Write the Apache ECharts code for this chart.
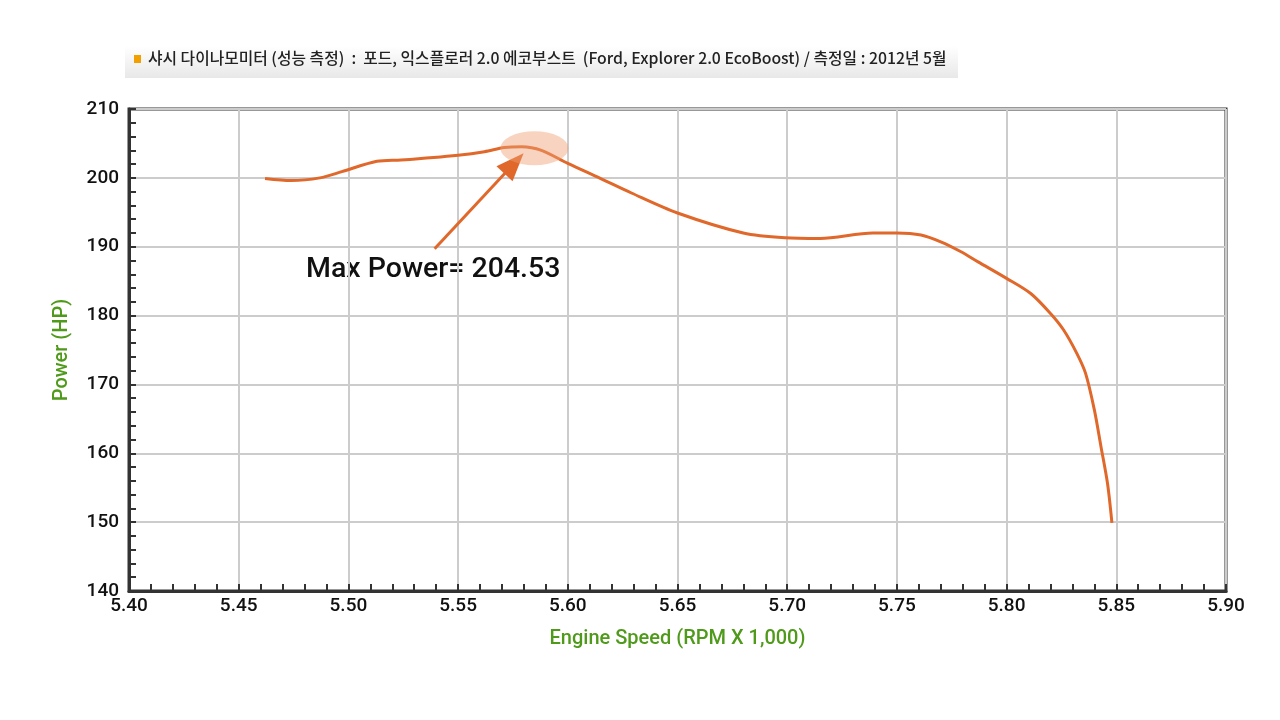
<!DOCTYPE html>
<html>
<head>
<meta charset="utf-8">
<script src="https://cdn.jsdelivr.net/npm/echarts@6/dist/echarts.min.js"></script>
<style>
  html, body { margin: 0; padding: 0; background: #fff; }
  #main { width: 1280px; height: 720px; }
</style>
</head>
<body>
<div id="main"></div>
<script>
// 엔진 회전수 (x1000 RPM) / 출력 (HP)
var rpm = [5.462, 5.474, 5.487, 5.497, 5.513, 5.524, 5.550, 5.562, 5.571, 5.579, 5.588, 5.600,
  5.615, 5.629, 5.650, 5.680, 5.699, 5.715, 5.739, 5.750, 5.761, 5.770, 5.779, 5.787,
  5.800, 5.811, 5.820, 5.826, 5.832, 5.836, 5.840, 5.843, 5.846, 5.848];
var hp = [199.9, 199.6, 200.0, 200.9, 202.4, 202.6, 203.3, 203.8, 204.4, 204.53, 204.0, 202.1,
  199.9, 197.8, 194.9, 192.0, 191.3, 191.2, 192.0, 192.0, 191.7, 190.7, 189.3, 187.8,
  185.4, 183.2, 180.3, 177.9, 174.5, 171.6, 166.3, 161.0, 155.6, 149.9];

var titleText = '샤시 다이나모미터 (성능 측정)  :  포드, 익스플로러 2.0 에코부스트  (Ford, Explorer 2.0 EcoBoost) / 측정일 : 2012년 5월';
var maxLabel = 'Max Power= 204.53';
var peak = [5.5848, 204.3];
var arrowFrom = [5.5393, 189.7];
var arrowTo = [5.5755, 202.1];

var points = rpm.map(function (r, i) { return [r, hp[i]]; });

var myChart = echarts.init(document.getElementById('main'));
var green = '#4f9a1a';
var orange = '#e0682a';

var option = {
  animation: false,
  grid: {
    left: 129, right: 54, top: 109, bottom: 129,
    show: true, borderColor: '#333', borderWidth: 3
  },
  xAxis: {
    type: 'value', min: 5.4, max: 5.9, interval: 0.05,
    name: 'Engine Speed (RPM X 1,000)', nameLocation: 'middle', nameGap: 38,
    nameTextStyle: { color: green, fontSize: 20, fontFamily: 'Roboto', fontWeight: 500 },
    axisLine: { lineStyle: { color: '#333', width: 3 } },
    axisTick: { show: true, inside: true, length: 7, lineStyle: { color: '#333', width: 2 } },
    minorTick: { show: true, splitNumber: 5, length: 7, lineStyle: { color: '#333', width: 2 } },
    axisLabel: {
      color: '#111', fontSize: 19, fontFamily: 'Roboto', fontWeight: 500, margin: 6,
      formatter: function (v) { return v.toFixed(2); }
    },
    splitLine: { lineStyle: { color: '#ccc', width: 2 } }
  },
  yAxis: {
    type: 'value', min: 140, max: 210, interval: 10,
    name: 'Power (HP)', nameLocation: 'middle', nameGap: 57,
    nameTextStyle: { color: green, fontSize: 20, fontFamily: 'Roboto', fontWeight: 500 },
    axisLine: { show: true, lineStyle: { color: '#333', width: 3 } },
    axisTick: { show: true, inside: true, length: 7, lineStyle: { color: '#333', width: 2 } },
    minorTick: { show: true, splitNumber: 5, length: 7, lineStyle: { color: '#333', width: 2 } },
    axisLabel: { color: '#111', fontSize: 19, fontFamily: 'Roboto', fontWeight: 500, margin: 10 },
    splitLine: { lineStyle: { color: '#ccc', width: 2 } }
  },
  series: [{
    type: 'line',
    data: points,
    smooth: 0.3,
    showSymbol: false,
    lineStyle: { color: orange, width: 3 },
    markPoint: {
      silent: true,
      symbol: 'circle',
      symbolSize: [68, 34],
      itemStyle: { color: 'rgba(240,160,115,0.45)' },
      label: { show: false },
      data: [{ coord: peak }]
    },
    markLine: {
      silent: true,
      symbol: ['none', 'triangle'],
      symbolSize: [22, 28],
      lineStyle: { color: orange, width: 3, type: 'solid' },
      label: { show: false },
      data: [[{ coord: arrowFrom }, { coord: arrowTo }]]
    }
  }],
  graphic: [
    {
      type: 'rect',
      shape: { x: 125, y: 46, width: 833, height: 32 },
      style: {
        fill: new echarts.graphic.LinearGradient(0, 0, 0, 1, [
          { offset: 0, color: '#ffffff' },
          { offset: 1, color: '#e8e8e8' }
        ])
      }
    },
    {
      type: 'rect',
      shape: { x: 134, y: 55, width: 7, height: 8 },
      style: { fill: '#f2a000' }
    },
    {
      type: 'text',
      left: 148, top: 50,
      style: { text: titleText, fontSize: 15.8, fontWeight: 500, fill: '#222', fontFamily: 'Noto Sans CJK KR' }
    },
    {
      type: 'text',
      left: 306, top: 255,
      style: { text: maxLabel, fontSize: 28.5, fontWeight: 500, fill: '#111', fontFamily: 'Roboto' }
    }
  ]
};

myChart.setOption(option);
window.addEventListener('resize', myChart.resize);
</script>
</body>
</html>
